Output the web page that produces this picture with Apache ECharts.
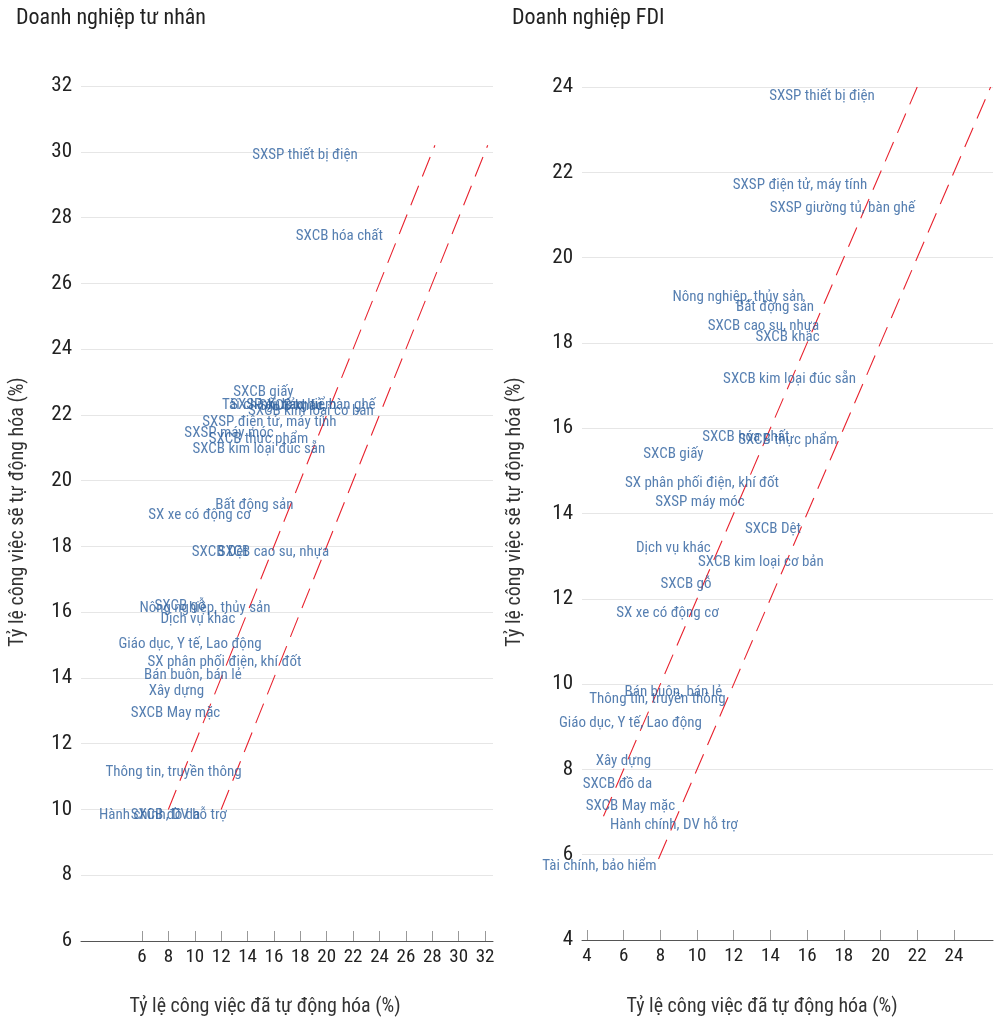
<!DOCTYPE html>
<html><head><meta charset="utf-8">
<script src="https://cdn.jsdelivr.net/npm/echarts@6/dist/echarts.min.js"></script>
<style>html,body{margin:0;padding:0;background:#fff}#c{width:995px;height:1021px}</style>
</head><body><div id="c"></div>
<script>
// ---- Data: Doanh nghiệp tư nhân (left) ----
const leftNames = ["SXSP thiết bị điện","SXCB hóa chất","SXCB giấy","Tài chính, bảo hiểm","SXSP giường tủ, bàn ghế","SXCB kim loại cơ bản","SXCB khác","SXSP điện tử, máy tính","SXSP máy móc","SXCB thực phẩm","SXCB kim loại đúc sẵn","Bất động sản","SX xe có động cơ","SXCB Dệt","SXCB cao su, nhựa","SXCB gỗ","Nông nghiệp, thủy sản","Dịch vụ khác","Giáo dục, Y tế, Lao động","SX phân phối điện, khí đốt","Bán buôn, bán lẻ","Xây dựng","SXCB May mặc","Thông tin, truyền thông","Hành chính, DV hỗ trợ","SXCB đồ da"];
const leftX = [18.35,20.96,15.2,16.4,18.2,18.8,17.3,15.66,12.6,14.83,14.86,14.52,10.36,11.9,15.96,8.88,10.77,10.24,9.64,12.25,9.86,8.61,8.54,8.39,7.59,7.78];
const leftY = [29.88,27.42,22.7,22.3,22.3,22.12,22.25,21.76,21.45,21.27,20.94,19.24,18.94,17.82,17.82,16.18,16.12,15.79,15.03,14.48,14.09,13.58,12.94,11.12,9.82,9.82];
// ---- Data: Doanh nghiệp FDI (right) ----
const rightNames = ["SXSP thiết bị điện","SXSP điện tử, máy tính","SXSP giường tủ, bàn ghế","Nông nghiệp, thủy sản","Bất động sản","SXCB cao su, nhựa","SXCB khác","SXCB kim loại đúc sẵn","SXCB hóa chất","SXCB thực phẩm","SXCB giấy","SX phân phối điện, khí đốt","SXSP máy móc","SXCB Dệt","Dịch vụ khác","SXCB kim loại cơ bản","SXCB gỗ","SX xe có động cơ","Bán buôn, bán lẻ","Thông tin, truyền thông","Giáo dục, Y tế, Lao động","Xây dựng","SXCB đồ da","SXCB May mặc","Hành chính, DV hỗ trợ","Tài chính, bảo hiểm"];
const rightX = [16.81,15.61,17.92,12.23,14.25,13.62,14.93,15.04,12.66,14.95,8.71,10.27,10.16,14.14,8.71,13.48,9.40,8.39,8.71,7.84,6.37,5.99,5.66,6.37,8.74,4.68];
const rightY = [23.79,21.70,21.16,19.08,18.84,18.40,18.14,17.15,15.79,15.72,15.40,14.72,14.27,13.64,13.19,12.86,12.35,11.67,9.81,9.65,9.09,8.20,7.66,7.14,6.70,5.74];
// Reference dashed lines (endpoints)
const leftLineA = [[8,10],[28.2,30.2]];
const leftLineB = [[12,10],[32.2,30.2]];
const rightLineA = [[4.9,6.9],[22,24]];
const rightLineB = [[7.9,5.9],[26,24]];
// Tick labels
const leftXTicks = [6,8,10,12,14,16,18,20,22,24,26,28,30,32];
const rightXTicks = [4,6,8,10,12,14,16,18,20,22,24];

const FONT = "'Roboto Condensed','Liberation Sans Narrow','DejaVu Sans Condensed',Roboto,sans-serif";
const LBL = '#2c5f9e';

function pts(names, xs, ys){ return names.map((n,i)=>({name:n, value:[xs[i], ys[i]]})); }
function lineData(a,b){ return [a[0],a[1],[null,null],b[0],b[1]]; }

const xCommon = (ticks)=>({
  type:'value', splitLine:{show:false},
  axisLine:{show:true, lineStyle:{color:'#555', width:1}},
  axisTick:{show:true, inside:true, length:10, customValues:ticks, lineStyle:{color:'#999'}},
  axisLabel:{customValues:ticks, color:'#222', fontSize:19, fontFamily:FONT, margin:7}
});
const yCommon = (min,max)=>({
  type:'value', min:min, max:max, interval:2,
  axisLine:{show:false}, axisTick:{show:false},
  splitLine:{show:true, lineStyle:{color:'#e6e6e6', width:1}},
  axisLabel:{color:'#222', fontSize:21, fontFamily:FONT, margin:9}
});
const scatterS = (idx, data)=>({
  type:'scatter', xAxisIndex:idx, yAxisIndex:idx, data:data, symbolSize:1,
  itemStyle:{color:'rgba(0,0,0,0)'}, silent:true,
  label:{show:true, position:'inside', formatter:'{b}', color:LBL, fontSize:15, fontFamily:FONT}
});
const lineS = (idx, data)=>({
  type:'line', xAxisIndex:idx, yAxisIndex:idx, data:data, symbol:'none', connectNulls:false, silent:true,
  lineStyle:{color:'#e8232f', width:1.1, type:[21,10]}, z:1
});

const chart = echarts.init(document.getElementById('c'), null, {renderer:'canvas'});
chart.setOption({
  animation:false,
  backgroundColor:'#fff',
  grid:[
    {left:81, width:412, top:86, bottom:80},
    {left:582, width:411, top:87, bottom:81}
  ],
  xAxis:[
    Object.assign(xCommon(leftXTicks), {gridIndex:0, min:1.38, max:32.6}),
    Object.assign(xCommon(rightXTicks), {gridIndex:1, min:3.73, max:26.13})
  ],
  yAxis:[
    Object.assign(yCommon(6,32), {gridIndex:0}),
    Object.assign(yCommon(4,24), {gridIndex:1})
  ],
  series:[
    lineS(0, lineData(leftLineA, leftLineB)),
    lineS(1, lineData(rightLineA, rightLineB)),
    scatterS(0, pts(leftNames, leftX, leftY)),
    scatterS(1, pts(rightNames, rightX, rightY))
  ],
  graphic:[
    {type:'text', x:16, y:18, style:{text:'Doanh nghiệp tư nhân', fontSize:22, fill:'#222', fontFamily:FONT, verticalAlign:'middle'}},
    {type:'text', x:512, y:18, style:{text:'Doanh nghiệp FDI', fontSize:22, fill:'#222', fontFamily:FONT, verticalAlign:'middle'}},
    {type:'text', x:265, y:1007, style:{text:'Tỷ lệ công việc đã tự động hóa (%)', fontSize:20, fill:'#333', fontFamily:FONT, align:'center', verticalAlign:'middle'}},
    {type:'text', x:762, y:1007, style:{text:'Tỷ lệ công việc đã tự động hóa (%)', fontSize:20, fill:'#333', fontFamily:FONT, align:'center', verticalAlign:'middle'}},
    {type:'text', x:18, y:512, rotation:Math.PI/2, style:{text:'Tỷ lệ công việc sẽ tự động hóa (%)', fontSize:20, fill:'#333', fontFamily:FONT, align:'center', verticalAlign:'middle'}},
    {type:'text', x:515, y:512, rotation:Math.PI/2, style:{text:'Tỷ lệ công việc sẽ tự động hóa (%)', fontSize:20, fill:'#333', fontFamily:FONT, align:'center', verticalAlign:'middle'}}
  ]
});
</script></body></html>
